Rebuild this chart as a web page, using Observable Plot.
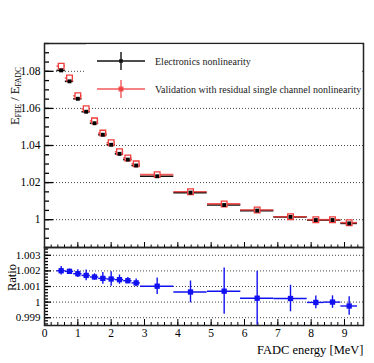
<!DOCTYPE html>
<html><head><meta charset="utf-8">
<script src="https://cdn.jsdelivr.net/npm/d3@7"></script>
<script src="https://cdn.jsdelivr.net/npm/@observablehq/plot@0.6"></script>
<style>
body{margin:0;background:#fff;}
#chart{position:relative;width:374px;height:363px;}
#chart svg{position:absolute;left:0;top:0;}
#chart svg text{font-family:"Liberation Serif","Times New Roman",serif;}
</style></head><body><div id="chart"></div>
<script>
// ---- data ----
const energy = [0.5,0.75,1.0,1.25,1.5,1.75,2.0,2.25,2.5,2.75,3.38,4.38,5.39,6.38,7.38,8.14,8.64,9.14];
const halfWidth = [0.125,0.125,0.125,0.125,0.125,0.125,0.125,0.125,0.125,0.125,0.5,0.5,0.5,0.5,0.5,0.25,0.25,0.25];
const electronics = [1.0805,1.0746,1.0652,1.0582,1.0520,1.0458,1.0404,1.0355,1.0324,1.0292,1.0234,1.0146,1.0079,1.0049,1.0015,0.9998,0.9998,0.9980];
const electronicsErr = [0.0010,0.0010,0.0010,0.0010,0.0010,0.0010,0.0010,0.0010,0.0010,0.0010,0.0008,0.0008,0.0008,0.0008,0.0006,0.0006,0.0006,0.0006];
const validation = [1.0828,1.0764,1.0668,1.0598,1.0533,1.0467,1.0415,1.0366,1.0333,1.0301,1.0243,1.0151,1.0085,1.0052,1.0016,1.0000,1.0000,0.9984];
const validationErr = [0.0012,0.0012,0.0012,0.0012,0.0012,0.0012,0.0012,0.0012,0.0012,0.0012,0.0010,0.0010,0.0010,0.0010,0.0008,0.0008,0.0008,0.0008];
const ratio = [1.00201,1.00197,1.00182,1.00171,1.00161,1.00152,1.00148,1.00144,1.00137,1.00123,1.00102,1.00065,1.00070,1.00025,1.00023,0.99998,1.00000,0.99975];
const ratioErr = [0.00027,0.00015,0.00025,0.00034,0.00020,0.00038,0.00047,0.00030,0.00020,0.00025,0.00053,0.00070,0.00148,0.00173,0.00085,0.00041,0.00040,0.00060];

const xMajor = [0,1,2,3,4,5,6,7,8,9];
const yMajorTop = [1.00,1.02,1.04,1.06,1.08];
const yMajorRatio = [0.999,1.000,1.001,1.002,1.003];
const legendLabels = ["Electronics nonlinearity","Validation with residual single channel nonlinearity"];
const xLabel = "FADC energy [MeV]";
const ratioLabel = "Ratio";

const xMinor = d3.range(0, 48).map(i => +(i*0.2).toFixed(1));
const yMinorTop = d3.range(0, 23).map(i => +(0.985 + i*0.005).toFixed(3));
const yMinorRatio = d3.range(0, 25).map(i => +(0.9986 + i*0.0002).toFixed(4));

const rows = energy.map((x,i)=>({x, hw: halfWidth[i], elec: electronics[i], elecErr: electronicsErr[i],
  val: validation[i], valErr: validationErr[i], ratio: ratio[i], ratioErr: ratioErr[i]}));

const W = 374, H = 363, ML = 44, MR = 11;
const innerW = W - ML - MR;
const topMT = 43, topMB = 116, topInnerH = H - topMT - topMB;
const rMT = 247, rMB = 38, rInnerH = H - rMT - rMB;
const font = "Liberation Serif, Times New Roman, serif";
const red = "#f03c3c", blue = "#1010f0";
const xDomain = [0, 9.57];

const topPlot = Plot.plot({
  width: W, height: H, marginTop: topMT, marginBottom: topMB, marginLeft: ML, marginRight: MR,
  x: {domain: xDomain, axis: null}, y: {domain: [0.985, 1.095], axis: null},
  style: {fontFamily: font, fontSize: "11px", background: "transparent", color: "black"},
  marks: [
    Plot.gridY(yMajorTop, {stroke: "#333", strokeOpacity: 0.9, strokeDasharray: "1,2"}),
    Plot.tickY(yMajorTop, {y: d=>d, stroke: "black", strokeWidth: 1.3, insetRight: innerW - 9}),
    Plot.tickY(yMinorTop, {y: d=>d, stroke: "black", strokeWidth: 1.3, insetRight: innerW - 5}),
    Plot.tickX(xMajor, {x: d=>d, stroke: "black", strokeWidth: 1, insetTop: topInnerH - 5}),
    Plot.tickX(xMinor, {x: d=>d, stroke: "black", strokeWidth: 1, insetTop: topInnerH - 2.5}),
    Plot.axisY(yMajorTop, {tickSize: 0, tickPadding: 4, tickFormat: d => String(+d.toFixed(2)), label: null, fontSize: 11.5}),
    Plot.ruleY(rows, {y: "elec", x1: d=>d.x-d.hw, x2: d=>d.x+d.hw, stroke: "#111", strokeWidth: 1.6}),
    Plot.ruleX(rows, {x: "x", y1: d=>d.elec-d.elecErr, y2: d=>d.elec+d.elecErr, stroke: "#111", strokeWidth: 1.4}),
    Plot.ruleY(rows, {y: "val", x1: d=>d.x-d.hw, x2: d=>d.x+d.hw, stroke: red, strokeOpacity: 0.85, strokeWidth: 1.6}),
    Plot.ruleX(rows, {x: "x", y1: d=>d.val-d.valErr, y2: d=>d.val+d.valErr, stroke: red, strokeOpacity: 0.85, strokeWidth: 1.4}),
    Plot.dot(rows, {x: "x", y: "val", symbol: "square", r: 3.2, stroke: red, fill: "white", strokeWidth: 1.3}),
    Plot.dot(rows, {x: "x", y: "elec", symbol: "square", r: 2.2, fill: "black", stroke: "none"}),
    Plot.frame({stroke: "#222", strokeWidth: 1.5})
  ]
});

const ratioPlot = Plot.plot({
  width: W, height: H, marginTop: rMT, marginBottom: rMB, marginLeft: ML, marginRight: MR,
  x: {domain: xDomain, axis: null}, y: {domain: [0.9985, 1.0035], axis: null},
  style: {fontFamily: font, fontSize: "11px", background: "transparent", color: "black"},
  marks: [
    Plot.gridY(yMajorRatio, {stroke: "#333", strokeOpacity: 0.9, strokeDasharray: "1,2"}),
    Plot.tickY(yMajorRatio, {y: d=>d, stroke: "black", strokeWidth: 1.3, insetRight: innerW - 7}),
    Plot.tickY(yMinorRatio, {y: d=>d, stroke: "black", strokeWidth: 1.3, insetRight: innerW - 4}),
    Plot.tickX(xMajor, {x: d=>d, stroke: "black", strokeWidth: 1, insetTop: rInnerH - 6}),
    Plot.tickX(xMinor, {x: d=>d, stroke: "black", strokeWidth: 1, insetTop: rInnerH - 3}),
    Plot.axisY(yMajorRatio, {tickSize: 0, tickPadding: 4, tickFormat: d => String(+d.toFixed(3)), label: null, fontSize: 11}),
    Plot.axisX(xMajor, {tickSize: 0, tickPadding: 3.5, tickFormat: d => String(d), label: null, fontSize: 11.5}),
    Plot.ruleY(rows, {y: "ratio", x1: d=>d.x-d.hw, x2: d=>d.x+d.hw, stroke: blue, strokeWidth: 1.4, clip: true}),
    Plot.ruleX(rows, {x: "x", y1: d=>d.ratio-d.ratioErr, y2: d=>d.ratio+d.ratioErr, stroke: blue, strokeWidth: 1.4, clip: true}),
    Plot.dot(rows, {x: "x", y: "ratio", symbol: "square", r: 3, fill: blue, stroke: "none"}),
    Plot.frame({stroke: "#222", strokeWidth: 1.5}),
    Plot.text([xLabel], {frameAnchor: "bottom-right", text: d=>d, dy: 28.5, textAnchor: "end", fontSize: 12.5, lineAnchor: "bottom"}),
    Plot.text([ratioLabel], {frameAnchor: "left", text: d=>d, dx: -33, dy: -9, rotate: -90, textAnchor: "middle", fontSize: 12.5})
  ]
});

const chart = document.getElementById("chart");
chart.appendChild(topPlot);
chart.appendChild(ratioPlot);

// legend and y label of the upper panel
const svg = d3.select(topPlot);
svg.append("rect").attr("x", 86).attr("y", 44.2).attr("width", 275.8).attr("height", 58).attr("fill", "white");
const lg = svg.append("g");
const entries = [{c: "#111", y: 61}, {c: red, y: 89}];
entries.forEach((e, i) => {
  lg.append("line").attr("x1", 97).attr("x2", 145).attr("y1", e.y).attr("y2", e.y).attr("stroke", e.c).attr("stroke-width", 1.6).attr("stroke-opacity", i ? 0.85 : 1);
  lg.append("line").attr("x1", 121).attr("x2", 121).attr("y1", e.y-9).attr("y2", e.y+9).attr("stroke", e.c).attr("stroke-width", 1.4).attr("stroke-opacity", i ? 0.85 : 1);
  lg.append("rect").attr("x", 121 - (i?2.5:1.8)).attr("y", e.y - (i?2.5:1.8)).attr("width", i?5:3.6).attr("height", i?5:3.6).attr("fill", e.c).attr("fill-opacity", i ? 0.85 : 1);
  lg.append("text").attr("x", 155).attr("y", e.y + 3.5).attr("text-anchor", "start").attr("font-size", 10).attr("fill", "#222").text(legendLabels[i]);
});
const yl = svg.append("text").attr("transform", "translate(18.5,96) rotate(-90)").attr("text-anchor", "middle")
  .attr("font-size", 12.5).attr("fill", "black");
yl.append("tspan").text("E");
yl.append("tspan").attr("font-size", 7.5).attr("dy", 2.5).text("FEE");
yl.append("tspan").attr("dy", -2.5).text(" / E");
yl.append("tspan").attr("font-size", 7.5).attr("dy", 2.5).text("FADC");
</script></body></html>
